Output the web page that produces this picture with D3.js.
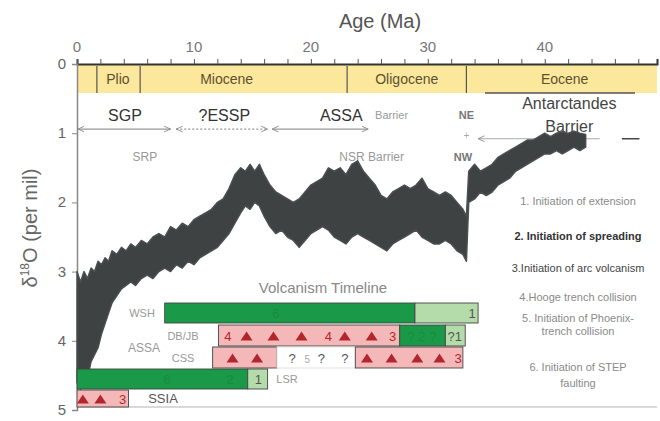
<!DOCTYPE html>
<html><head><meta charset="utf-8">
<script src="https://cdn.jsdelivr.net/npm/d3@7"></script>
<style>body{margin:0;background:#fff}svg text{font-family:Arial,"Liberation Sans",sans-serif}</style>
</head><body><svg id="c" width="660" height="421"></svg>
<script>
// ---- data ----
const ageMa  = [0.0,0.3,0.6,0.9,1.2,1.5,1.8,2.1,2.4,2.7,3.0,3.4,3.8,4.2,4.6,5.0,5.5,6.0,6.5,7.0,7.5,8.0,8.5,9.0,9.5,10.0,10.5,11.0,11.5,12.0,12.5,13.0,13.5,14.0,14.4,14.8,15.2,15.6,16.0,16.5,17.0,17.5,18.0,18.5,19.0,19.5,20.0,20.5,21.0,21.5,22.0,22.5,23.0,23.5,24.0,24.5,25.0,25.5,26.0,26.5,27.0,27.5,28.0,28.5,29.0,29.5,30.0,30.5,31.0,31.5,32.0,32.5,33.0,33.3,33.5,34.0,34.5,35.0,35.5,36.0,36.5,37.0,37.5,38.0,38.5,39.0,39.5,40.0,40.5,41.0,41.5,42.0,42.5,43.0,43.5];
const o18Min = [3.0,3.15,3.0,3.1,2.95,3.0,2.85,2.9,2.8,2.85,2.7,2.75,2.65,2.7,2.6,2.65,2.55,2.6,2.5,2.45,2.5,2.35,2.4,2.3,2.35,2.25,2.2,2.15,2.1,2.0,1.95,1.8,1.6,1.5,1.55,1.45,1.55,1.45,1.6,1.75,1.85,1.9,1.95,2.0,1.95,1.85,1.75,1.7,1.65,1.5,1.55,1.5,1.6,1.45,1.4,1.55,1.65,1.75,1.9,1.95,1.85,1.8,1.75,1.8,1.75,1.65,1.8,1.85,1.9,1.85,1.9,2.0,2.1,2.2,1.55,1.45,1.55,1.5,1.45,1.35,1.3,1.25,1.2,1.15,1.1,1.1,1.05,1.0,1.05,1.0,0.98,1.0,0.97,1.0,1.02];
const o18Max = [4.6,4.7,4.5,4.55,4.3,4.2,4.1,3.9,3.75,3.6,3.45,3.35,3.25,3.2,3.15,3.2,3.1,3.05,3.1,3.0,2.95,3.0,2.9,2.95,2.85,2.9,2.8,2.75,2.7,2.65,2.55,2.45,2.3,2.15,2.05,2.1,2.0,2.05,2.2,2.35,2.45,2.4,2.5,2.55,2.65,2.55,2.45,2.4,2.35,2.4,2.5,2.55,2.6,2.5,2.45,2.5,2.55,2.6,2.65,2.7,2.6,2.55,2.5,2.45,2.4,2.5,2.55,2.6,2.6,2.55,2.6,2.7,2.75,2.85,2.0,1.95,1.85,1.9,1.85,1.75,1.7,1.65,1.55,1.5,1.45,1.4,1.35,1.3,1.3,1.25,1.3,1.25,1.2,1.25,1.2];

const xTickLabels = [0,10,20,30,40];
const xMinorTicks = [0,2,4,6,8,10,12,14,16,18,20,22,24,26,28,30,32,34,36,38,40,42,44,46,48];
const yTickLabels = [0,1,2,3,4,5];

const epochNames  = ["Plio","Miocene","Oligocene","Eocene"];
const epochLabelAt = [3.5,12.8,28.2,41.7];
const epochBounds = [1.7,5.4,23.1,33.3];

const gatewayNames = ["SGP","?ESSP","ASSA"];
const gatewayAt    = [4.1,12.6,22.6];
const gatewaySpans = [[0,8.0,"solid"],[8.4,16.3,"dot"],[16.6,24.9,"solid"]];

const rowNames  = ["WSH","DB/JB","CSS","LSR","SSIA"];
// segments: [row, startAge, endAge, kind]
const volcSegments = [
  [0,7.5,28.9,"dark"],[0,28.9,34.3,"light"],
  [1,12.1,27.6,"pink"],[1,27.6,31.5,"dark"],[1,31.5,33.2,"light"],
  [2,11.6,17.1,"pink"],[2,17.1,23.8,"white"],[2,23.8,33.0,"pink"],
  [3,0,14.6,"dark"],[3,14.6,16.3,"light"],
  [4,0,4.4,"pink"]
];
const volcTriangles = [[1,14.5],[1,16.8],[1,19.2],[1,22.9],[1,25.2],
  [2,13.3],[2,15.4],[2,24.8],[2,26.9],[2,29.1],[2,31.0],[4,0.5],[4,2.0]];
// numbers: [row, age, label, colourKind]
const volcNumbers = [[0,33.8,"1","g"],[0,17.0,"6","d"],[1,12.9,"4","r"],[1,21.5,"4","r"],[1,27.0,"3","r"],[1,29.5,"? 2 ?","d"],[1,32.3,"?1","g"],
  [2,18.4,"?","k"],[2,19.7,"5","k2"],[2,20.9,"?","k"],[2,22.9,"?","k"],[2,32.6,"3","r"],
  [3,7.7,"6","d"],[3,13.1,"2","d"],[3,15.5,"1","g"],[4,3.9,"3","r"]];

const legendLines = [
  ["1. Initiation of extension",201,"#8a8a8a","normal"],
  ["2. Initiation of spreading",236,"#333","bold"],
  ["3.Initiation of arc volcanism",268,"#444","normal"],
  ["4.Hooge trench collision",297,"#8a8a8a","normal"],
  ["5. Initiation of Phoenix-",318,"#8a8a8a","normal"],
  ["trench collision",331,"#8a8a8a","normal"],
  ["6. Initiation of STEP",367,"#8a8a8a","normal"],
  ["faulting",383,"#8a8a8a","normal"]
];

// ---- drawing ----
const svg = d3.select("#c");
const x = d3.scaleLinear().domain([0,49.6]).range([77,657]);
const y = d3.scaleLinear().domain([0,5]).range([64,410]);

// yellow epoch band
svg.append("rect").attr("x",x(0)).attr("y",64).attr("width",x(49.6)-x(0)).attr("height",29).attr("fill","#fbe89c");
svg.selectAll(".eb").data(epochBounds).enter().append("line")
  .attr("x1",d=>x(d)).attr("x2",d=>x(d)).attr("y1",66).attr("y2",93).attr("stroke","#555").attr("stroke-width",1.2);
svg.selectAll(".el").data(epochNames).enter().append("text")
  .attr("x",(d,i)=>x(epochLabelAt[i])).attr("y",84).attr("text-anchor","middle")
  .attr("font-size",14).attr("fill","#5b5130").text(d=>d);
svg.append("line").attr("x1",485).attr("x2",635).attr("y1",93).attr("y2",93).attr("stroke","#555").attr("stroke-width",1.5);

// bottom gray line
svg.append("line").attr("x1",x(0)).attr("x2",x(49.6)).attr("y1",407).attr("y2",407).attr("stroke","#ccc").attr("stroke-width",1.5);

// top axis
const xAxis = d3.axisTop(x).tickValues(xMinorTicks).tickSize(5).tickFormat("");
const gx = svg.append("g").attr("transform","translate(0,64)").call(xAxis);
gx.select(".domain").attr("stroke","#333").attr("stroke-width",2);
gx.selectAll(".tick line").attr("stroke","#555");
svg.selectAll(".xl").data(xTickLabels).enter().append("text")
  .attr("x",d=>x(d)).attr("y",52).attr("text-anchor","middle").attr("font-size",15).attr("fill","#777").text(d=>d);
svg.append("text").attr("x",380).attr("y",28).attr("text-anchor","middle").attr("font-size",20).attr("fill","#555").text("Age (Ma)");

// left axis
const yAxis = d3.axisLeft(y).tickValues(yTickLabels).tickSize(5).tickFormat("");
const gy = svg.append("g").attr("transform","translate(77,0)").call(yAxis);
gy.select(".domain").attr("stroke","#888").attr("stroke-width",1.5);
gy.selectAll(".tick line").attr("stroke","#888");
svg.selectAll(".yl").data(yTickLabels).enter().append("text")
  .attr("x",62).attr("y",d=>y(d)+5).attr("text-anchor","middle").attr("font-size",15).attr("fill","#666").text(d=>d);
const yl = svg.append("text").attr("transform","translate(37,228) rotate(-90)").attr("text-anchor","middle").attr("font-size",20).attr("fill","#666");
yl.append("tspan").text("δ");
yl.append("tspan").attr("font-size",12).attr("dy",-8).text("18");
yl.append("tspan").attr("dy",8).text("O (per mil)");

// gateway labels and arrows
svg.selectAll(".gw").data(gatewayNames).enter().append("text")
  .attr("x",(d,i)=>x(gatewayAt[i])).attr("y",y(0.74)+6).attr("text-anchor","middle")
  .attr("font-size",16).attr("fill","#333").text(d=>d);
svg.append("text").attr("x",x(26.9)).attr("y",y(0.74)+4).attr("text-anchor","middle").attr("font-size",11).attr("fill","#999").text("Barrier");
svg.append("text").attr("x",x(33.3)).attr("y",y(0.74)+4).attr("text-anchor","middle").attr("font-size",11).attr("font-weight","bold").attr("fill","#777").text("NE");
svg.append("text").attr("x",x(33.0)).attr("y",y(1.34)+4).attr("text-anchor","middle").attr("font-size",11).attr("font-weight","bold").attr("fill","#777").text("NW");
svg.append("text").attr("x",x(33.3)).attr("y",y(1.08)).attr("text-anchor","middle").attr("font-size",10).attr("fill","#aaa").text("+");
svg.append("text").attr("x",x(5.8)).attr("y",y(1.34)+4).attr("text-anchor","middle").attr("font-size",12).attr("fill","#999").text("SRP");
svg.append("text").attr("x",x(25.2)).attr("y",y(1.34)+4).attr("text-anchor","middle").attr("font-size",12).attr("fill","#999").text("NSR Barrier");
svg.append("text").attr("x",x(42.1)).attr("y",y(0.56)+6).attr("text-anchor","middle").attr("font-size",16).attr("fill","#444").text("Antarctandes");
svg.append("text").attr("x",x(42.1)).attr("y",y(0.91)+5).attr("text-anchor","middle").attr("font-size",16).attr("fill","#444").text("Barrier");

const defs = svg.append("defs");
defs.append("marker").attr("id","ah").attr("viewBox","0 0 10 10").attr("refX",9).attr("refY",5)
  .attr("markerWidth",6).attr("markerHeight",6).attr("orient","auto-start-reverse")
  .append("path").attr("d","M0,1L9,5L0,9").attr("fill","none").attr("stroke","#888").attr("stroke-width",1.2);
svg.selectAll(".gs").data(gatewaySpans).enter().append("line")
  .attr("x1",d=>x(d[0])+1).attr("x2",d=>x(d[1])).attr("y1",y(0.94)).attr("y2",y(0.94))
  .attr("stroke","#999").attr("stroke-width",1.2)
  .attr("stroke-dasharray",d=>d[2]==="dot"?"2,2":null)
  .attr("marker-start","url(#ah)").attr("marker-end","url(#ah)");
svg.append("line").attr("x1",x(34.3)).attr("x2",x(44.7)).attr("y1",y(1.08)).attr("y2",y(1.08))
  .attr("stroke","#aaa").attr("stroke-width",1.2).attr("marker-start","url(#ah)");
svg.append("line").attr("x1",x(46.6)).attr("x2",x(48.1)).attr("y1",y(1.08)).attr("y2",y(1.08)).attr("stroke","#444").attr("stroke-width",1.5);

// oxygen isotope record (envelope)
const recs = ageMa.map((a,i)=>({a,lo:o18Min[i],hi:o18Max[i]}));
svg.append("path").datum(recs)
  .attr("d",d3.area().x(d=>x(d.a)).y0(d=>y(d.lo)).y1(d=>y(d.hi)))
  .attr("fill","#3e4242").attr("stroke","#4a4f4f").attr("stroke-width",1.5).attr("stroke-linejoin","round");

// volcanism timeline
svg.append("text").attr("x",323).attr("y",293).attr("text-anchor","middle").attr("font-size",15).attr("fill","#888").text("Volcanism Timeline");
const rowTop = [303,325,347,369,390];
const rowH   = [20,21,21,20,17];
const rowLabelX = [142,183,183,287,163];
const rowLabelAnchor = ["middle","middle","middle","middle","middle"];
svg.append("text").attr("x",144).attr("y",352).attr("text-anchor","middle").attr("font-size",12).attr("fill","#999").text("ASSA");
svg.selectAll(".rl").data(rowNames).enter().append("text")
  .attr("x",(d,i)=>rowLabelX[i]).attr("y",(d,i)=>rowTop[i]+rowH[i]/2+4)
  .attr("text-anchor",(d,i)=>rowLabelAnchor[i])
  .attr("font-size",(d,i)=>i===4?13:11).attr("fill",(d,i)=>i===4?"#555":"#999").text(d=>d);
const fillK = {dark:"#1a9a48",light:"#b4dcaa",pink:"#f4b8b8",white:"#ffffff"};
svg.selectAll(".seg").data(volcSegments).enter().append("rect")
  .attr("x",d=>x(d[1])).attr("width",d=>x(d[2])-x(d[1]))
  .attr("y",d=>rowTop[d[0]]).attr("height",d=>rowH[d[0]])
  .attr("fill",d=>fillK[d[3]]).attr("stroke",d=>d[3]==="white"?"#ddd":"#444").attr("stroke-width",0.9);
svg.selectAll(".tri").data(volcTriangles).enter().append("path")
  .attr("transform",d=>`translate(${x(d[1])},${rowTop[d[0]]+rowH[d[0]]/2+1})`)
  .attr("d","M-6,4L0,-5L6,4Z").attr("fill","#b3262e");
const numCol = {g:"#555",d:"#168a40",r:"#b3262e",k:"#555",k2:"#aaa"};
svg.selectAll(".vn").data(volcNumbers).enter().append("text")
  .attr("x",d=>x(d[1])).attr("y",d=>rowTop[d[0]]+rowH[d[0]]/2+5)
  .attr("text-anchor","middle").attr("font-size",d=>d[3]==="k2"?10:13).attr("fill",d=>numCol[d[3]]).text(d=>d[2]);

// right-side legend text
svg.selectAll(".lg").data(legendLines).enter().append("text")
  .attr("x",578).attr("y",d=>d[1]+4).attr("text-anchor","middle").attr("font-size",11)
  .attr("fill",d=>d[2]).attr("font-weight",d=>d[3]).text(d=>d[0]);
</script></body></html>
